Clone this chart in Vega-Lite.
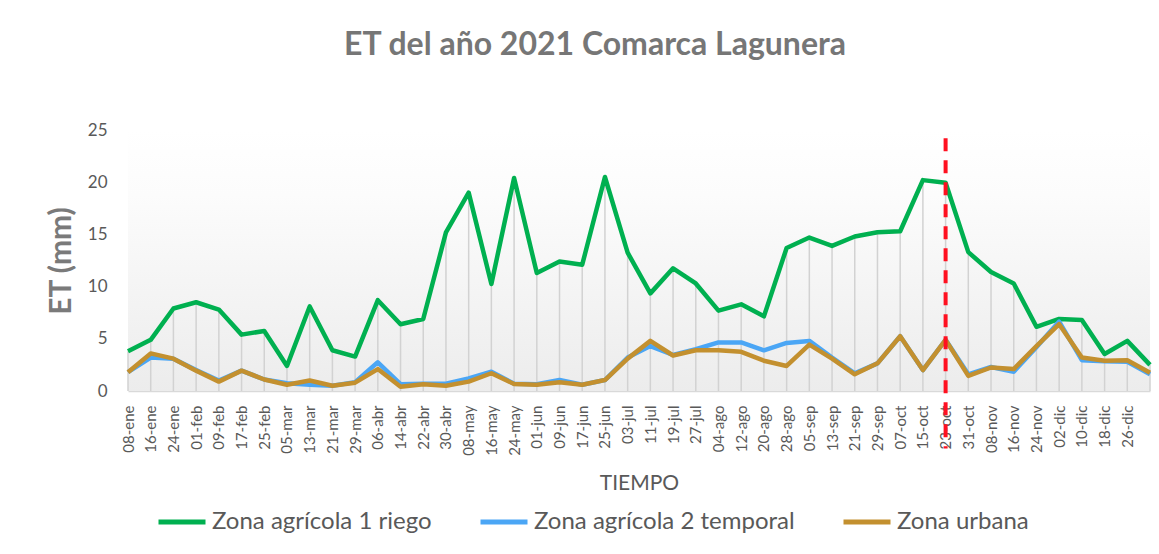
{
  "$schema": "https://vega.github.io/schema/vega-lite/v6.json",
  "width": 1022,
  "height": 261,
  "autosize": {"type": "none"},
  "padding": {"left": 128, "top": 130, "right": 9, "bottom": 163},
  "background": "white",
  "title": {"text": "ET del año 2021 Comarca Lagunera", "font": "Lato", "fontSize": 32, "fontWeight": "bold", "color": "#767676", "anchor": "middle", "frame": "group", "dx": -44, "offset": 59},
  "config": {"view": {"stroke": null}, "font": "Lato"},
  "data": {"values": [
    {"fecha": "08-ene", "Zona agrícola 1 riego": 3.8, "Zona agrícola 2 temporal": 1.8, "Zona urbana": 1.8},
    {"fecha": "16-ene", "Zona agrícola 1 riego": 4.9, "Zona agrícola 2 temporal": 3.2, "Zona urbana": 3.6},
    {"fecha": "24-ene", "Zona agrícola 1 riego": 7.9, "Zona agrícola 2 temporal": 3.1, "Zona urbana": 3.1},
    {"fecha": "01-feb", "Zona agrícola 1 riego": 8.5, "Zona agrícola 2 temporal": 2.0, "Zona urbana": 1.95},
    {"fecha": "09-feb", "Zona agrícola 1 riego": 7.8, "Zona agrícola 2 temporal": 1.0, "Zona urbana": 0.9},
    {"fecha": "17-feb", "Zona agrícola 1 riego": 5.4, "Zona agrícola 2 temporal": 1.95, "Zona urbana": 1.95},
    {"fecha": "25-feb", "Zona agrícola 1 riego": 5.75, "Zona agrícola 2 temporal": 1.1, "Zona urbana": 1.1},
    {"fecha": "05-mar", "Zona agrícola 1 riego": 2.4, "Zona agrícola 2 temporal": 0.75, "Zona urbana": 0.6},
    {"fecha": "13-mar", "Zona agrícola 1 riego": 8.1, "Zona agrícola 2 temporal": 0.6, "Zona urbana": 1.0},
    {"fecha": "21-mar", "Zona agrícola 1 riego": 3.9, "Zona agrícola 2 temporal": 0.5, "Zona urbana": 0.5},
    {"fecha": "29-mar", "Zona agrícola 1 riego": 3.3, "Zona agrícola 2 temporal": 0.85, "Zona urbana": 0.8},
    {"fecha": "06-abr", "Zona agrícola 1 riego": 8.7, "Zona agrícola 2 temporal": 2.75, "Zona urbana": 2.1},
    {"fecha": "14-abr", "Zona agrícola 1 riego": 6.4, "Zona agrícola 2 temporal": 0.65, "Zona urbana": 0.4},
    {"fecha": "22-abr", "Zona agrícola 1 riego": 6.9, "Zona agrícola 2 temporal": 0.7, "Zona urbana": 0.65},
    {"fecha": "30-abr", "Zona agrícola 1 riego": 15.2, "Zona agrícola 2 temporal": 0.7, "Zona urbana": 0.5},
    {"fecha": "08-may", "Zona agrícola 1 riego": 19.0, "Zona agrícola 2 temporal": 1.2, "Zona urbana": 0.9},
    {"fecha": "16-may", "Zona agrícola 1 riego": 10.25, "Zona agrícola 2 temporal": 1.85, "Zona urbana": 1.7},
    {"fecha": "24-may", "Zona agrícola 1 riego": 20.4, "Zona agrícola 2 temporal": 0.7, "Zona urbana": 0.67},
    {"fecha": "01-jun", "Zona agrícola 1 riego": 11.3, "Zona agrícola 2 temporal": 0.65, "Zona urbana": 0.6},
    {"fecha": "09-jun", "Zona agrícola 1 riego": 12.4, "Zona agrícola 2 temporal": 1.05, "Zona urbana": 0.83},
    {"fecha": "17-jun", "Zona agrícola 1 riego": 12.1, "Zona agrícola 2 temporal": 0.6, "Zona urbana": 0.6},
    {"fecha": "25-jun", "Zona agrícola 1 riego": 20.5, "Zona agrícola 2 temporal": 1.05, "Zona urbana": 1.05},
    {"fecha": "03-jul", "Zona agrícola 1 riego": 13.25, "Zona agrícola 2 temporal": 3.2, "Zona urbana": 3.1},
    {"fecha": "11-jul", "Zona agrícola 1 riego": 9.35, "Zona agrícola 2 temporal": 4.3, "Zona urbana": 4.8},
    {"fecha": "19-jul", "Zona agrícola 1 riego": 11.75, "Zona agrícola 2 temporal": 3.45, "Zona urbana": 3.4},
    {"fecha": "27-jul", "Zona agrícola 1 riego": 10.3, "Zona agrícola 2 temporal": 4.0, "Zona urbana": 3.9},
    {"fecha": "04-ago", "Zona agrícola 1 riego": 7.7, "Zona agrícola 2 temporal": 4.65, "Zona urbana": 3.9},
    {"fecha": "12-ago", "Zona agrícola 1 riego": 8.3, "Zona agrícola 2 temporal": 4.65, "Zona urbana": 3.75},
    {"fecha": "20-ago", "Zona agrícola 1 riego": 7.15, "Zona agrícola 2 temporal": 3.9, "Zona urbana": 2.9},
    {"fecha": "28-ago", "Zona agrícola 1 riego": 13.7, "Zona agrícola 2 temporal": 4.6, "Zona urbana": 2.4},
    {"fecha": "05-sep", "Zona agrícola 1 riego": 14.7, "Zona agrícola 2 temporal": 4.8, "Zona urbana": 4.45},
    {"fecha": "13-sep", "Zona agrícola 1 riego": 13.9, "Zona agrícola 2 temporal": 3.2, "Zona urbana": 3.1},
    {"fecha": "21-sep", "Zona agrícola 1 riego": 14.8, "Zona agrícola 2 temporal": 1.7, "Zona urbana": 1.6},
    {"fecha": "29-sep", "Zona agrícola 1 riego": 15.2, "Zona agrícola 2 temporal": 2.65, "Zona urbana": 2.65},
    {"fecha": "07-oct", "Zona agrícola 1 riego": 15.3, "Zona agrícola 2 temporal": 5.25, "Zona urbana": 5.25},
    {"fecha": "15-oct", "Zona agrícola 1 riego": 20.2, "Zona agrícola 2 temporal": 2.0, "Zona urbana": 2.0},
    {"fecha": "23-oct", "Zona agrícola 1 riego": 19.95, "Zona agrícola 2 temporal": 4.9, "Zona urbana": 4.9},
    {"fecha": "31-oct", "Zona agrícola 1 riego": 13.3, "Zona agrícola 2 temporal": 1.6, "Zona urbana": 1.45},
    {"fecha": "08-nov", "Zona agrícola 1 riego": 11.4, "Zona agrícola 2 temporal": 2.3, "Zona urbana": 2.25},
    {"fecha": "16-nov", "Zona agrícola 1 riego": 10.3, "Zona agrícola 2 temporal": 1.85, "Zona urbana": 2.1},
    {"fecha": "24-nov", "Zona agrícola 1 riego": 6.15, "Zona agrícola 2 temporal": 4.2, "Zona urbana": 4.3},
    {"fecha": "02-dic", "Zona agrícola 1 riego": 6.9, "Zona agrícola 2 temporal": 6.65, "Zona urbana": 6.4},
    {"fecha": "10-dic", "Zona agrícola 1 riego": 6.8, "Zona agrícola 2 temporal": 2.95, "Zona urbana": 3.2},
    {"fecha": "18-dic", "Zona agrícola 1 riego": 3.55, "Zona agrícola 2 temporal": 2.85, "Zona urbana": 2.9},
    {"fecha": "26-dic", "Zona agrícola 1 riego": 4.8, "Zona agrícola 2 temporal": 2.8, "Zona urbana": 2.95},
    {"fecha": "03-ene", "Zona agrícola 1 riego": 2.5, "Zona agrícola 2 temporal": 1.6, "Zona urbana": 1.75}
  ]},
  "layer": [
    {
      "data": {"values": [{}]},
      "mark": {"type": "rect", "fill": {"gradient": "linear", "x1": 0, "y1": 0, "x2": 0, "y2": 1, "stops": [{"offset": 0, "color": "#ffffff"}, {"offset": 0.25, "color": "#fcfcfc"}, {"offset": 1, "color": "#ececec"}]}},
      "encoding": {
        "y": {"datum": 25, "type": "quantitative", "scale": {"domain": [0, 25], "nice": false}},
        "y2": {"datum": 0}
      }
    },
    {
      "mark": {"type": "rule", "color": "#d2d2d2", "strokeWidth": 1.5},
      "encoding": {
        "x": {"field": "fecha", "type": "ordinal"},
        "y": {"field": "Zona agrícola 1 riego", "type": "quantitative", "scale": {"domain": [0, 25], "nice": false}},
        "y2": {"datum": 0}
      }
    },
    {
      "transform": [{"fold": ["Zona agrícola 1 riego", "Zona agrícola 2 temporal", "Zona urbana"], "as": ["serie", "et"]}],
      "mark": {"type": "line", "strokeWidth": 4.5, "strokeJoin": "round"},
      "encoding": {
        "x": {
          "field": "fecha", "type": "ordinal",
          "scale": {"type": "point", "padding": 0, "domain": ["08-ene","16-ene","24-ene","01-feb","09-feb","17-feb","25-feb","05-mar","13-mar","21-mar","29-mar","06-abr","14-abr","22-abr","30-abr","08-may","16-may","24-may","01-jun","09-jun","17-jun","25-jun","03-jul","11-jul","19-jul","27-jul","04-ago","12-ago","20-ago","28-ago","05-sep","13-sep","21-sep","29-sep","07-oct","15-oct","23-oct","31-oct","08-nov","16-nov","24-nov","02-dic","10-dic","18-dic","26-dic","03-ene"]},
          "axis": {
            "title": "TIEMPO", "titleFont": "Lato", "titleFontSize": 21, "titleFontWeight": "normal", "titleColor": "#595959", "titlePadding": 17,
            "labelAngle": -90, "labelFontSize": 15, "labelColor": "#595959", "labelPadding": 14,
            "labelExpr": "datum.value == '03-ene' ? '' : datum.value",
            "ticks": false, "domainColor": "#d9d9d9", "domainWidth": 1.5, "grid": false
          }
        },
        "y": {
          "field": "et", "type": "quantitative",
          "scale": {"domain": [0, 25], "nice": false},
          "axis": {
            "title": "ET (mm)", "titleFont": "Lato", "titleFontSize": 30, "titleFontWeight": "bold", "titleColor": "#7a7a7a", "titlePadding": 11,
            "values": [0, 5, 10, 15, 20, 25], "labelFontSize": 17, "labelColor": "#595959", "labelPadding": 21,
            "domain": false, "ticks": false, "grid": false
          }
        },
        "color": {
          "field": "serie", "type": "nominal",
          "scale": {"domain": ["Zona agrícola 1 riego", "Zona agrícola 2 temporal", "Zona urbana"], "range": ["#00B050", "#4BA6F5", "#C3902F"]},
          "legend": {
            "title": null, "orient": "none", "legendX": 28, "legendY": 366, "direction": "horizontal",
            "symbolType": "stroke", "symbolSize": 2209, "symbolStrokeWidth": 5,
            "labelFontSize": 24, "labelColor": "#595959", "labelOffset": 4, "columnPadding": 38, "labelLimit": 400
          }
        }
      }
    },
    {
      "data": {"values": [{}]},
      "mark": {"type": "rule", "color": "#ff1020", "strokeWidth": 4, "strokeDash": [13, 9]},
      "encoding": {
        "x": {"datum": "23-oct", "type": "ordinal"},
        "y": {"datum": 24.2, "type": "quantitative", "scale": {"domain": [0, 25], "nice": false}},
        "y2": {"datum": -5.5}
      }
    }
  ]
}
